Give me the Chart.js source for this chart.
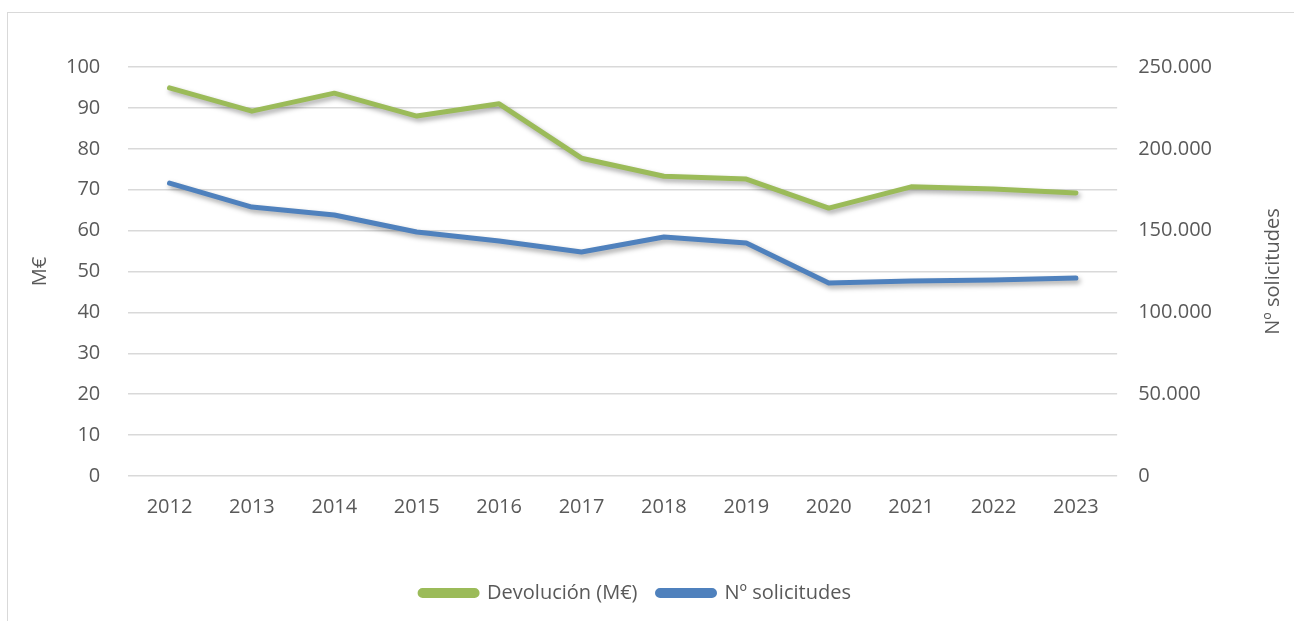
<!DOCTYPE html>
<html>
<head>
<meta charset="utf-8">
<script src="https://cdn.jsdelivr.net/npm/chart.js@4"></script>
<style>
  body { margin: 0; background: #fff; }
  #frame { position: absolute; left: 7px; top: 12px; width: 1300px; height: 620px; border: 1px solid #d9d9d9; }
  #wrap { position: absolute; left: 0; top: 0; width: 1294px; height: 621px; }
</style>
</head>
<body>
<div id="frame"></div>
<div id="wrap"><canvas id="myChart"></canvas></div>
<script>
const years = ['2012', '2013', '2014', '2015', '2016', '2017', '2018', '2019', '2020', '2021', '2022', '2023'];
const devolucion = [94.9, 89.2, 93.6, 88.0, 91.0, 77.7, 73.3, 72.6, 65.5, 70.7, 70.2, 69.2];
const solicitudes = [179000, 164400, 159500, 149100, 143600, 136900, 146100, 142400, 118000, 119200, 119800, 121000];
const leftTitle = 'M€';
const rightTitle = 'Nº solicitudes';

const fontFamily = "'Open Sans', 'Liberation Sans', sans-serif";
const textColor = '#595959';
const gridColor = '#d9d9d9';

// soft shadow under the lines, like the office chart
const lineShadow = {
  id: 'lineShadow',
  beforeDatasetDraw(chart) {
    const ctx = chart.ctx;
    ctx.save();
    ctx.shadowColor = 'rgba(0,0,0,0.35)';
    ctx.shadowBlur = 5;
    ctx.shadowOffsetX = 2;
    ctx.shadowOffsetY = 3;
  },
  afterDatasetDraw(chart) {
    chart.ctx.restore();
  }
};

// both axis titles read bottom-to-top in the original
const axisTitles = {
  id: 'axisTitles',
  afterDraw(chart) {
    const { ctx, chartArea: { top, bottom } } = chart;
    const midY = (top + bottom) / 2;
    ctx.save();
    ctx.fillStyle = textColor;
    ctx.font = '20px ' + fontFamily;
    ctx.textAlign = 'center';
    ctx.textBaseline = 'middle';
    [[40, leftTitle], [1273, rightTitle]].forEach(([x, t]) => {
      ctx.save();
      ctx.translate(x, midY);
      ctx.rotate(-Math.PI / 2);
      ctx.fillText(t, 0, 0);
      ctx.restore();
    });
    ctx.restore();
  }
};

const fmt = (v) => v === 0 ? '0' : v.toString().replace(/\B(?=(\d{3})+(?!\d))/g, '.');

const config = {
  type: 'line',
  data: {
    labels: years,
    datasets: [{
      label: 'Devolución (M€)',
      data: devolucion,
      borderColor: '#9bbb59',
      backgroundColor: '#9bbb59',
      borderWidth: 5,
      borderCapStyle: 'round',
      borderJoinStyle: 'round',
      pointRadius: 0,
      tension: 0,
      yAxisID: 'y'
    }, {
      label: 'Nº solicitudes',
      data: solicitudes,
      borderColor: '#4f81bd',
      backgroundColor: '#4f81bd',
      borderWidth: 5,
      borderCapStyle: 'round',
      borderJoinStyle: 'round',
      pointRadius: 0,
      tension: 0,
      yAxisID: 'y1'
    }]
  },
  options: {
    responsive: true,
    maintainAspectRatio: false,
    animation: false,
    layout: { padding: { top: 67, left: 38, right: 61, bottom: 8 } },
    plugins: {
      tooltip: { enabled: false },
      legend: {
        position: 'bottom',
        labels: {
          color: textColor,
          font: { family: fontFamily, size: 20 },
          boxWidth: 57,
          boxHeight: 5,
          useBorderRadius: true,
          borderRadius: 2.5,
          padding: 20
        }
      }
    },
    scales: {
      x: {
        offset: true,
        border: { display: false },
        grid: { display: false, drawTicks: false },
        ticks: { color: textColor, font: { family: fontFamily, size: 20 }, padding: 19, maxRotation: 0 },
        afterFit: (scale) => { scale.height += 25; }
      },
      y: {
        position: 'left',
        min: 0, max: 100,
        border: { display: false },
        grid: { color: gridColor, lineWidth: 1.5, drawTicks: false },
        ticks: { stepSize: 10, color: textColor, font: { family: fontFamily, size: 20 }, padding: 28 }
      },
      y1: {
        position: 'right',
        min: 0, max: 250000,
        border: { display: false },
        grid: { display: false, drawTicks: false },
        ticks: { stepSize: 50000, color: textColor, font: { family: fontFamily, size: 20 }, padding: 21, callback: fmt }
      }
    }
  },
  plugins: [lineShadow, axisTitles]
};

const myChart = new Chart(document.getElementById('myChart'), config);
</script>
</body>
</html>
